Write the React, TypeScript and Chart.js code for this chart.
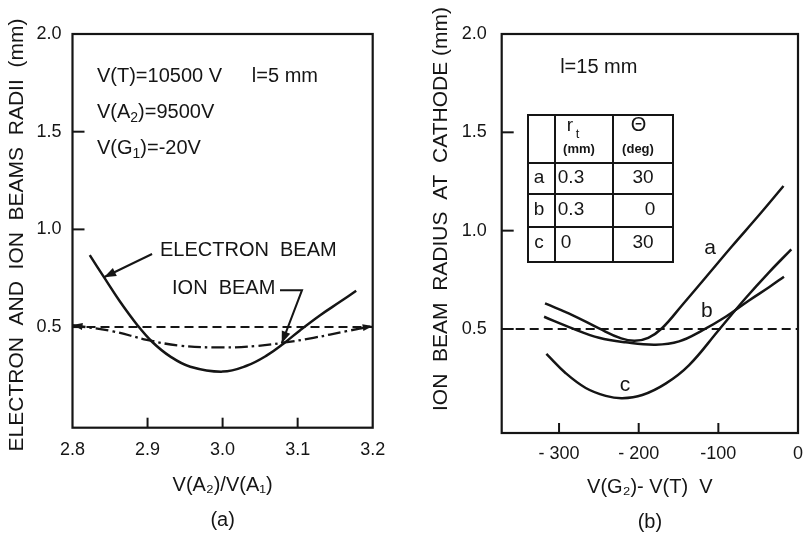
import React, { useEffect, useRef } from "react";
import { Chart, registerables } from "chart.js";

Chart.register(...registerables);

const FONT = '"Liberation Sans", Arial, "DejaVu Sans", sans-serif';
const INK = "#151515";

// ---------- Panel (a) data ----------
const ratioTicks = [2.8, 2.9, 3.0, 3.1, 3.2];
const ratioTickLabels = ["2.8", "2.9", "3.0", "3.1", "3.2"];
const radiusTicks = [0.5, 1.0, 1.5, 2.0];
const radiusTickLabels = ["0.5", "1.0", "1.5", "2.0"];

const electronX = [2.823, 2.843, 2.863, 2.886, 2.906, 2.93, 2.957, 3.0, 3.032, 3.059, 3.081, 3.103, 3.13, 3.156, 3.178];
const electronR = [0.868, 0.749, 0.632, 0.512, 0.425, 0.35, 0.297, 0.272, 0.302, 0.355, 0.415, 0.483, 0.561, 0.628, 0.686];

const ionX = [2.8, 2.854, 2.899, 2.943, 3.0, 3.045, 3.081, 3.121, 3.165, 3.2];
const ionR = [0.51, 0.478, 0.435, 0.405, 0.396, 0.403, 0.42, 0.445, 0.479, 0.505];

const refRadius = 0.5;

// ---------- Panel (b) data ----------
const voltTicks = [-300, -200, -100, 0];
const voltTickLabels = ["- 300", "- 200", "-100", "0"];

const curveAX = [-317.6, -283.3, -249.8, -222, -205, -188, -170.4, -145.3, -116.0, -82.6, -48.3, -18.2];
const curveAR = [0.63, 0.571, 0.503, 0.452, 0.44, 0.455, 0.505, 0.622, 0.762, 0.922, 1.082, 1.227];

const curveBX = [-318.8, -283.3, -249.8, -216.3, -178.7, -149.3, -120.1, -90.8, -61.5, -36.4, -17.6];
const curveBR = [0.562, 0.503, 0.455, 0.432, 0.42, 0.437, 0.493, 0.562, 0.645, 0.712, 0.766];

const curveCX = [-315.9, -291.6, -266.5, -241.4, -220.6, -195.5, -166.2, -137.0, -99.4, -65.9, -36.4, -8.4];
const curveCR = [0.373, 0.275, 0.2, 0.16, 0.148, 0.164, 0.222, 0.315, 0.495, 0.656, 0.788, 0.905];

const curveLabels = ["a", "b", "c"];

const tableHead = ["", "r", "Θ"];
const tableUnits = ["", "(mm)", "(deg)"];
const tableRows = [
  ["a", "0.3", "30"],
  ["b", "0.3", "0"],
  ["c", "0", "30"],
];

const pts = (xs: number[], ys: number[]) => xs.map((x, i) => ({ x, y: ys[i] }));

function arrowHead(ctx: CanvasRenderingContext2D, fx: number, fy: number, tx: number, ty: number, len = 10, half = 4) {
  const a = Math.atan2(ty - fy, tx - fx);
  const bx = tx - len * Math.cos(a);
  const by = ty - len * Math.sin(a);
  ctx.beginPath();
  ctx.moveTo(tx, ty);
  ctx.lineTo(bx + half * Math.sin(a), by - half * Math.cos(a));
  ctx.lineTo(bx - half * Math.sin(a), by + half * Math.cos(a));
  ctx.closePath();
  ctx.fill();
}

// draws text runs, some of them as subscripts
function subText(ctx: CanvasRenderingContext2D, runs: [string, boolean][], x: number, y: number, size: number) {
  let cx = x;
  runs.forEach(([t, sub]) => {
    ctx.font = `${sub ? Math.round(size * 0.7) : size}px ${FONT}`;
    ctx.fillText(t, cx, sub ? y + size * 0.3 : y);
    cx += ctx.measureText(t).width;
  });
}

type PanelSpec = {
  width: number;
  padRight: number;
  yAxisWidth: number;
  xAxisHeight: number;
  xMin: number;
  xMax: number;
  yMin: number;
  xTicks: number[];
  xTickLabels: string[];
  xTickPad: number;
  yTickPad: number;
  xTitle: string[];
  xTitlePadBottom: number;
  yTitle: string;
  yTitleX: number;
  yTitleY: number;
  datasets: any[];
  annotate: (chart: any) => void;
};

function buildConfig(spec: PanelSpec): any {
  const decor = {
    id: "decor",
    afterDatasetsDraw(chart: any) {
      const { ctx, chartArea: ca, scales } = chart;
      const xs = scales.x;
      const ys = scales.y;
      ctx.save();
      ctx.strokeStyle = INK;
      ctx.fillStyle = INK;
      ctx.lineWidth = 2.2;
      ctx.lineCap = "butt";
      ctx.strokeRect(ca.left, ca.top, ca.right - ca.left, ca.bottom - ca.top);
      // inward tick marks
      ctx.lineWidth = 2;
      radiusTicks.forEach((v) => {
        const py = ys.getPixelForValue(v);
        if (py <= ca.top + 2) return;
        ctx.beginPath();
        ctx.moveTo(ca.left, py);
        ctx.lineTo(ca.left + 12, py);
        ctx.stroke();
      });
      spec.xTicks.forEach((v) => {
        const px = xs.getPixelForValue(v);
        if (px <= ca.left + 2 || px >= ca.right - 2) return;
        ctx.beginPath();
        ctx.moveTo(px, ca.bottom);
        ctx.lineTo(px, ca.bottom - 10);
        ctx.stroke();
      });
      // y axis title
      ctx.save();
      ctx.translate(spec.yTitleX, spec.yTitleY);
      ctx.rotate(-Math.PI / 2);
      ctx.font = `21px ${FONT}`;
      ctx.textAlign = "center";
      ctx.textBaseline = "middle";
      ctx.fillText(spec.yTitle, 0, 0);
      ctx.restore();
      spec.annotate(chart);
      ctx.restore();
    },
  };

  return {
    type: "line",
    data: { datasets: spec.datasets },
    plugins: [decor],
    options: {
      animation: false,
      responsive: false,
      maintainAspectRatio: false,
      events: [],
      layout: { padding: { left: 0, top: 34, right: spec.padRight, bottom: 0 } },
      elements: { point: { radius: 0 }, line: { tension: 0.4, capBezierPoints: true } },
      plugins: { legend: { display: false }, tooltip: { enabled: false }, title: { display: false } },
      scales: {
        x: {
          type: "linear",
          min: spec.xMin,
          max: spec.xMax,
          grid: { display: false, drawTicks: false },
          border: { display: false },
          afterBuildTicks: (s: any) => {
            s.ticks = spec.xTicks.map((v) => ({ value: v }));
          },
          afterFit: (s: any) => {
            s.height = spec.xAxisHeight;
            s.paddingLeft = 0;
            s.paddingRight = 0;
          },
          ticks: {
            autoSkip: false,
            maxRotation: 0,
            padding: spec.xTickPad,
            color: INK,
            font: { family: FONT, size: 18 },
            callback: (_v: any, i: number) => spec.xTickLabels[i],
          },
          title: {
            display: true,
            text: spec.xTitle,
            color: INK,
            font: { family: FONT, size: 20, lineHeight: 35 / 20 },
            padding: { top: 0, bottom: spec.xTitlePadBottom },
          },
        },
        y: {
          type: "linear",
          min: spec.yMin,
          max: 2.0,
          grid: { display: false, drawTicks: false },
          border: { display: false },
          afterBuildTicks: (s: any) => {
            s.ticks = radiusTicks.map((v) => ({ value: v }));
          },
          afterFit: (s: any) => {
            s.width = spec.yAxisWidth;
            s.paddingTop = 0;
            s.paddingBottom = 0;
          },
          ticks: {
            autoSkip: false,
            padding: spec.yTickPad,
            color: INK,
            font: { family: FONT, size: 18 },
            callback: (_v: any, i: number) => radiusTickLabels[i],
          },
        },
      },
    },
  };
}

const specA: PanelSpec = {
  width: 400,
  padRight: 27.3,
  yAxisWidth: 72.5,
  xAxisHeight: 107.3,
  xMin: 2.8,
  xMax: 3.2,
  yMin: -0.015,
  xTicks: ratioTicks,
  xTickLabels: ratioTickLabels,
  xTickPad: 12,
  yTickPad: 11,
  xTitle: ["V(A₂)/V(A₁)", "(a)"],
  xTitlePadBottom: -3,
  yTitle: "ELECTRON  AND  ION  BEAMS  RADII  (mm)",
  yTitleX: 17,
  yTitleY: 235,
  datasets: [
    {
      label: "ELECTRON BEAM",
      data: pts(electronX, electronR),
      borderColor: INK,
      borderWidth: 2.5,
      fill: false,
    },
    {
      label: "ION BEAM",
      data: pts(ionX, ionR),
      borderColor: INK,
      borderWidth: 2.3,
      borderDash: [13, 4, 2.5, 4],
      fill: false,
    },
    {
      label: "0.5 mm",
      data: [
        { x: ratioTicks[0], y: refRadius },
        { x: ratioTicks[ratioTicks.length - 1], y: refRadius },
      ],
      borderColor: INK,
      borderWidth: 2,
      borderDash: [9, 5],
      tension: 0,
      fill: false,
    },
  ],
  annotate: (chart: any) => {
    const { ctx, scales } = chart;
    const X = (v: number) => scales.x.getPixelForValue(v);
    const Y = (v: number) => scales.y.getPixelForValue(v);
    ctx.fillStyle = INK;
    ctx.strokeStyle = INK;
    ctx.font = `20px ${FONT}`;
    ctx.textAlign = "left";
    ctx.textBaseline = "middle";
    ctx.fillText("V(T)=10500 V", X(2.8326), Y(1.785));
    ctx.fillText("l=5 mm", X(3.039), Y(1.785));
    subText(ctx, [["V(A", false], ["2", true], [")=9500V", false]], X(2.8326), Y(1.6), 20);
    subText(ctx, [["V(G", false], ["1", true], [")=-20V", false]], X(2.8326), Y(1.416), 20);
    ctx.font = `20px ${FONT}`;
    ctx.fillText("ELECTRON  BEAM", X(2.9166), Y(0.894));
    ctx.fillText("ION  BEAM", X(2.9326), Y(0.695));
    ctx.lineWidth = 2;
    // electron beam arrow
    ctx.beginPath();
    ctx.moveTo(X(2.906), Y(0.874));
    ctx.lineTo(X(2.842), Y(0.755));
    ctx.stroke();
    arrowHead(ctx, X(2.906), Y(0.874), X(2.842), Y(0.755), 12, 4.5);
    // ion beam leader
    ctx.beginPath();
    ctx.moveTo(X(3.0765), Y(0.689));
    ctx.lineTo(X(3.1058), Y(0.689));
    ctx.lineTo(X(3.0788), Y(0.4166));
    ctx.stroke();
    arrowHead(ctx, X(3.1058), Y(0.689), X(3.0788), Y(0.4166), 12, 4.5);
    // arrow heads at the ends of the ion beam curve
    arrowHead(ctx, X(2.825), Y(0.497), X(2.8), Y(0.51), 10, 3.5);
    arrowHead(ctx, X(3.175), Y(0.49), X(3.2), Y(0.505), 10, 3.5);
  },
};

const specB: PanelSpec = {
  width: 406,
  padRight: 8,
  yAxisWidth: 101.7,
  xAxisHeight: 102,
  xMin: -372,
  xMax: 0,
  yMin: -0.029,
  xTicks: voltTicks,
  xTickLabels: voltTickLabels,
  xTickPad: 10,
  yTickPad: 15,
  xTitle: ["V(G₂)- V(T)  V", "(b)"],
  xTitlePadBottom: -4.5,
  yTitle: "ION  BEAM  RADIUS  AT  CATHODE (mm)",
  yTitleX: 41,
  yTitleY: 209,
  datasets: [
    { label: "a", data: pts(curveAX, curveAR), borderColor: INK, borderWidth: 2.5, fill: false },
    { label: "b", data: pts(curveBX, curveBR), borderColor: INK, borderWidth: 2.5, fill: false },
    { label: "c", data: pts(curveCX, curveCR), borderColor: INK, borderWidth: 2.5, fill: false },
    {
      label: "0.5 mm",
      data: [
        { x: -372, y: refRadius },
        { x: 0, y: refRadius },
      ],
      borderColor: INK,
      borderWidth: 2,
      borderDash: [9, 5],
      tension: 0,
      fill: false,
    },
  ],
  annotate: (chart: any) => {
    const { ctx, scales } = chart;
    const X = (v: number) => scales.x.getPixelForValue(v);
    const Y = (v: number) => scales.y.getPixelForValue(v);
    ctx.fillStyle = INK;
    ctx.strokeStyle = INK;
    ctx.textBaseline = "middle";
    ctx.textAlign = "left";
    ctx.font = `20px ${FONT}`;
    ctx.fillText("l=15 mm", X(-298.6), Y(1.832));
    // curve labels
    ctx.textAlign = "center";
    ctx.font = `21px ${FONT}`;
    ctx.fillText(curveLabels[0], X(-110.4), Y(0.91));
    ctx.fillText(curveLabels[1], X(-114.6), Y(0.588));
    ctx.fillText(curveLabels[2], X(-217.1), Y(0.215));
    // table
    const L = 128, R = 273, T = 115, B = 262;
    const rowsY = [163, 194, 227];
    const colsX = [155, 213];
    ctx.lineWidth = 2;
    ctx.fillStyle = "#fff";
    ctx.fillRect(L, T, R - L, B - T);
    ctx.fillStyle = INK;
    ctx.strokeRect(L, T, R - L, B - T);
    ctx.beginPath();
    rowsY.forEach((y) => {
      ctx.moveTo(L, y);
      ctx.lineTo(R, y);
    });
    colsX.forEach((x) => {
      ctx.moveTo(x, T);
      ctx.lineTo(x, B);
    });
    ctx.stroke();
    // header
    ctx.textAlign = "center";
    ctx.font = `19px ${FONT}`;
    ctx.fillText(tableHead[1], 170, 126);
    ctx.font = `13px ${FONT}`;
    ctx.fillText("t", 177.5, 134);
    ctx.font = `bold 13px ${FONT}`;
    ctx.fillText(tableUnits[1], 179, 149);
    ctx.fillText(tableUnits[2], 238, 149);
    ctx.font = `20px ${FONT}`;
    ctx.fillText(tableHead[2], 238.5, 125);
    // rows
    const rowCY = [178, 210, 243];
    const cellX = [
      [139, 171, 243],
      [139, 171, 250],
      [139, 166, 243],
    ];
    ctx.font = `19px ${FONT}`;
    tableRows.forEach((row, r) => {
      row.forEach((txt, c) => {
        ctx.fillText(txt, cellX[r][c], rowCY[r]);
      });
    });
  },
};

function Panel({ spec, left }: { spec: PanelSpec; left: number }) {
  const ref = useRef<HTMLCanvasElement | null>(null);
  useEffect(() => {
    if (!ref.current) return;
    const chart = new Chart(ref.current, buildConfig(spec));
    return () => chart.destroy();
  }, [spec]);
  return (
    <canvas
      ref={ref}
      width={spec.width}
      height={535}
      style={{ position: "absolute", left, top: 0, width: spec.width, height: 535 }}
    />
  );
}

export default function App() {
  return (
    <div
      style={{
        position: "absolute",
        left: 0,
        top: 0,
        width: 806,
        height: 535,
        background: "#ffffff",
        overflow: "hidden",
      }}
    >
      <Panel spec={specA} left={0} />
      <Panel spec={specB} left={400} />
    </div>
  );
}
